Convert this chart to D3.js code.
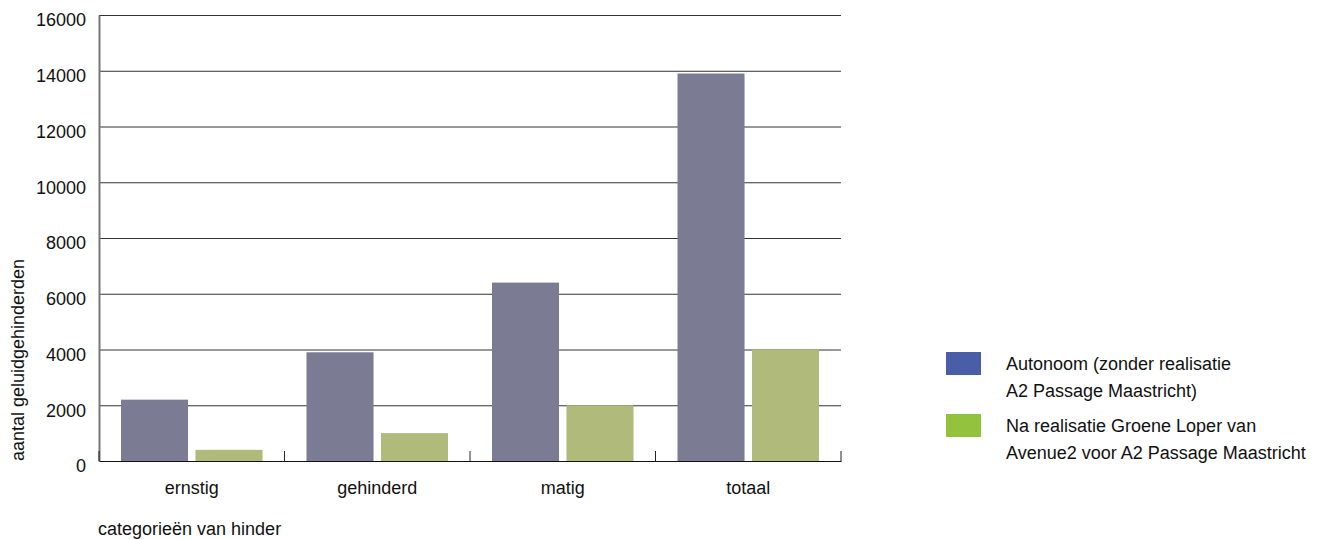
<!DOCTYPE html>
<html>
<head>
<meta charset="utf-8">
<script src="https://cdn.jsdelivr.net/npm/d3@7"></script>
<style>
  body { margin: 0; background: #fff; }
  text { font-family: "Liberation Sans", Arial, sans-serif; fill: #111; }
</style>
</head>
<body>
<div id="chart"></div>
<script>
const categories = ['ernstig', 'gehinderd', 'matig', 'totaal']
const seriesNames = [
  ['Autonoom (zonder realisatie', 'A2 Passage Maastricht)'],
  ['Na realisatie Groene Loper van', 'Avenue2 voor A2 Passage Maastricht']
]
const autonoom = [2200, 3900, 6400, 13900]
const groeneLoper = [400, 1000, 2000, 4000]
const yTicks = [0, 2000, 4000, 6000, 8000, 10000, 12000, 14000, 16000]

const W = 1317, H = 539
const margin = { left: 99, top: 15, right: 476, bottom: 78 }
const innerW = W - margin.left - margin.right
const innerH = H - margin.top - margin.bottom

const svg = d3.select('#chart').append('svg')
  .attr('width', W)
  .attr('height', H)

const g = svg.append('g')
  .attr('transform', `translate(${margin.left},${margin.top})`)

const x = d3.scaleBand().domain(categories).range([0, innerW])
const xs = d3.scaleBand().domain([0, 1]).range([22, x.bandwidth() - 22]).paddingInner(0.1)
const y = d3.scaleLinear().domain([0, 16000]).range([innerH, 0])

// gridlines
g.selectAll('.grid')
  .data(yTicks.slice(1))
  .enter().append('line')
  .attr('x1', 0).attr('x2', innerW)
  .attr('y1', d => y(d) + 0.5).attr('y2', d => y(d) + 0.5)
  .attr('stroke', '#333')

const rows = categories.map((c, i) => ({ cat: c, vals: [autonoom[i], groeneLoper[i]] }))
const barColors = ['#7b7b93', '#b0ba7a']
const legendColors = ['#4a5ea8', '#93c23d']

const grp = g.selectAll('.cat')
  .data(rows)
  .enter().append('g')
  .attr('transform', d => `translate(${x(d.cat)},0)`)

grp.selectAll('rect')
  .data(d => d.vals.map((v, k) => ({ v, k })))
  .enter().append('rect')
  .attr('x', d => xs(d.k))
  .attr('width', xs.bandwidth())
  .attr('y', d => y(d.v))
  .attr('height', d => innerH - y(d.v))
  .attr('fill', d => barColors[d.k])

// y axis
const yAxis = g.append('g')
  .call(d3.axisLeft(y).tickValues(yTicks).tickSize(0).tickPadding(13).tickFormat(d3.format('d')))
yAxis.select('.domain').attr('stroke', '#777').attr('stroke-width', 2)
yAxis.selectAll('text').attr('font-size', 18).attr('dy', '0.6em').style('font-family', null)

// x axis
const xAxis = g.append('g')
  .attr('transform', `translate(0,${innerH})`)
  .call(d3.axisBottom(x).tickSize(0).tickPadding(20))
xAxis.select('.domain').attr('stroke', '#111')
xAxis.selectAll('text').attr('font-size', 18).style('font-family', null)

// separators between categories
g.selectAll('.sep')
  .data(d3.range(categories.length + 1))
  .enter().append('line')
  .attr('x1', i => i * x.step()).attr('x2', i => i * x.step())
  .attr('y1', innerH - 10).attr('y2', innerH)
  .attr('stroke', '#222')

svg.append('text')
  .attr('transform', `translate(24,${360}) rotate(-90)`)
  .attr('text-anchor', 'middle')
  .attr('font-size', 18)
  .text('aantal geluidgehinderden')

svg.append('text')
  .attr('x', 98).attr('y', 535)
  .attr('font-size', 18)
  .text('categorieën van hinder')

// legend
const leg = svg.append('g').attr('transform', 'translate(946,352)')
const item = leg.selectAll('.item')
  .data(seriesNames)
  .enter().append('g')
  .attr('transform', (d, i) => `translate(0,${i * 62})`)
item.append('rect')
  .attr('width', 35).attr('height', 23)
  .attr('fill', (d, i) => legendColors[i])
item.append('text')
  .attr('x', 60).attr('y', 18)
  .attr('font-size', 18)
  .selectAll('tspan')
  .data(d => d)
  .enter().append('tspan')
  .attr('x', 60)
  .attr('dy', (d, i) => i === 0 ? 0 : 27)
  .text(d => d)
</script>
</body>
</html>
